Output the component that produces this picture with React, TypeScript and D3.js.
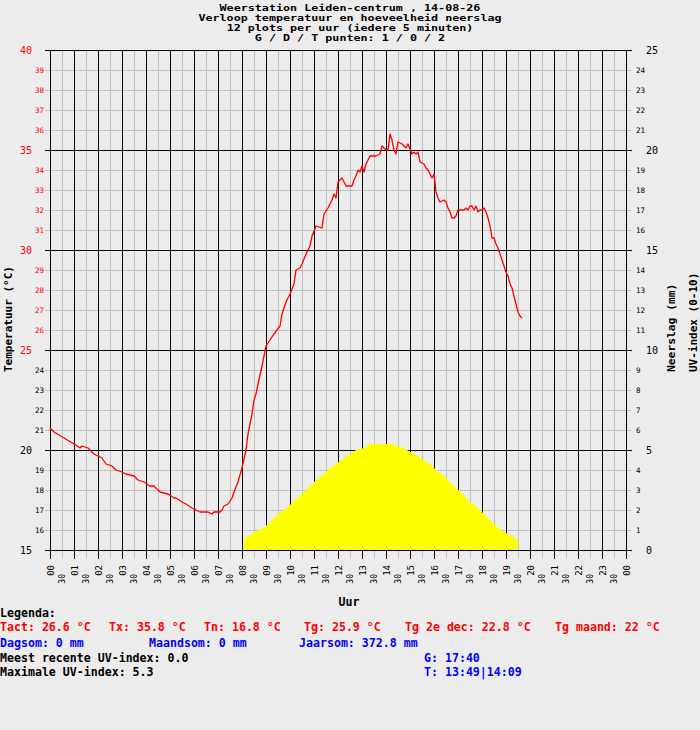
import React from "react";
import * as d3 from "d3";

// ---------- data ----------
const titleLines = [
  "Weerstation Leiden-centrum , 14-08-26",
  "Verloop temperatuur en hoeveelheid neerslag",
  "12 plots per uur (iedere 5 minuten)",
  "G / D / T punten: 1 / 0 / 2",
];

// minutes since midnight
const tempTimes = [
  0, 10, 35, 60, 75, 80, 95, 100, 110, 130, 140, 155, 165, 180, 190, 210, 220, 235, 250, 260,
  275, 295, 310, 315, 330, 340, 355, 365, 375, 395, 405, 410, 425, 430, 435, 445, 455, 460, 470, 480,
  490, 495, 505, 510, 515, 520, 530, 535, 540, 550, 560, 575, 580, 590, 600, 610, 615, 625, 630, 640,
  650, 655, 665, 680, 685, 695, 705, 710, 715, 720, 730, 740, 755, 760, 765, 770, 775, 780, 785, 790,
  800, 815, 825, 830, 840, 845, 850, 855, 860, 865, 870, 880, 890, 895, 905, 910, 915, 920, 925, 935,
  940, 945, 950, 955, 960, 965, 970, 975, 985, 990, 995, 1000, 1005, 1010, 1015, 1020, 1025, 1035, 1040, 1045,
  1050, 1055, 1060, 1065, 1070, 1075, 1080, 1085, 1090, 1095, 1100, 1105, 1110, 1115, 1120, 1125, 1130, 1135, 1140, 1145,
  1150, 1155, 1160, 1165, 1170, 1175, 1180,
];
const tempValues = [
  21.1, 20.9, 20.6, 20.3, 20.1, 20.2, 20.1, 20.0, 19.8, 19.6, 19.3, 19.2, 19.0, 18.9, 18.8, 18.7, 18.5, 18.4, 18.2, 18.2,
  17.9, 17.8, 17.6, 17.6, 17.4, 17.3, 17.1, 17.0, 16.9, 16.9, 16.8, 16.9, 16.9, 17.0, 17.2, 17.3, 17.6, 17.9, 18.4, 19.1,
  20.0, 20.8, 21.8, 22.5, 22.8, 23.3, 24.2, 24.7, 25.2, 25.5, 25.8, 26.2, 26.8, 27.4, 27.8, 28.3, 29.0, 29.1, 29.3, 29.8,
  30.2, 30.7, 31.2, 31.1, 31.8, 32.1, 32.5, 32.8, 32.6, 33.4, 33.6, 33.2, 33.2, 33.5, 33.7, 34.0, 33.9, 34.2, 33.9, 34.3,
  34.7, 34.7, 34.8, 35.2, 35.0, 35.0, 35.8, 35.5, 35.0, 34.8, 35.4, 35.3, 35.1, 35.3, 34.8, 34.9, 34.8, 34.9, 34.4, 34.3,
  34.1, 34.0, 33.8, 33.6, 33.8, 32.9, 32.6, 32.4, 32.5, 32.4, 32.1, 31.9, 31.6, 31.6, 31.7, 32.0, 32.0, 32.0, 32.1, 32.0,
  32.2, 32.2, 32.0, 32.2, 31.9, 32.0, 32.0, 32.1, 31.9, 31.6, 31.2, 30.6, 30.6, 30.3, 30.1, 29.8, 29.5, 29.2, 28.9, 28.7,
  28.3, 28.1, 27.7, 27.3, 26.9, 26.7, 26.6,
];

const uvTimes = [
  485, 495, 510, 535, 550, 565, 585, 600, 615, 635, 650, 665, 685, 700, 715, 735, 750, 765, 785, 800,
  855, 865, 885, 900, 915, 935, 950, 965, 985, 1000, 1015, 1035, 1050, 1065, 1085, 1100, 1115, 1135, 1150, 1165, 1170,
];
const uvValues = [
  0.5, 0.7, 0.9, 1.1, 1.4, 1.7, 2.0, 2.25, 2.55, 2.9, 3.2, 3.5, 3.8, 4.1, 4.3, 4.6, 4.8, 5.0, 5.1, 5.3,
  5.3, 5.2, 5.1, 4.9, 4.75, 4.5, 4.3, 4.0, 3.7, 3.4, 3.1, 2.75, 2.4, 2.2, 1.8, 1.5, 1.2, 0.9, 0.75, 0.55, 0.55,
];

const hourLabels = [
  "00", "01", "02", "03", "04", "05", "06", "07", "08", "09", "10", "11",
  "12", "13", "14", "15", "16", "17", "18", "19", "20", "21", "22", "23", "00",
];
const halfHourLabel = "30";

const tempMin = 15;
const tempMax = 40;
const rainMax = 25;

const legendTitle = "Legenda:";
const legendRed = ["Tact: 26.6 °C", "Tx: 35.8 °C", "Tn: 16.8 °C", "Tg: 25.9 °C", "Tg 2e dec: 22.8 °C", "Tg maand: 22 °C"];
const legendBlue = ["Dagsom: 0 mm", "Maandsom: 0 mm", "Jaarsom: 372.8 mm"];
const uvRecent = "Meest recente UV-index: 0.0";
const uvMax = "Maximale UV-index: 5.3";
const gTime = "G: 17:40";
const tTime = "T: 13:49|14:09";

// ---------- layout ----------
const W = 700;
const H = 730;
const L = 50;
const R = 626;
const T = 50;
const B = 550;
const BG = "#ececec";
const GRID = "#c0c0c0";
const MONO = "'DejaVu Sans Mono', 'Liberation Mono', monospace";
const redX = [0, 109, 204, 304, 405, 555];
const blueX = [0, 149, 299];
const CHAR_W = 7.05;

export default function App() {
  const x = d3.scaleLinear().domain([0, 1440]).range([L, R]);
  const y = d3.scaleLinear().domain([tempMin, tempMax]).range([B, T]);
  const yR = d3.scaleLinear().domain([0, rainMax]).range([B, T]);

  const tempData = tempTimes.map((t, i) => [t, tempValues[i]] as [number, number]);
  const uvData = uvTimes.map((t, i) => [t, uvValues[i]] as [number, number]);

  const line = d3
    .line<[number, number]>()
    .x((d) => x(d[0]))
    .y((d) => y(d[1]));
  const area = d3
    .area<[number, number]>()
    .x((d) => x(d[0]))
    .y0(yR(0))
    .y1((d) => yR(d[1]));

  const tempTicks = d3.range(tempMin, tempMax + 1);
  const rainTicks = d3.range(0, rainMax + 1);
  const halfHours = d3.range(0, 24).map((h) => h * 60 + 30);
  const hours = d3.range(0, 25).map((h) => h * 60);

  return (
    <div style={{ position: "absolute", left: 0, top: 0 }}>
      <svg width={W} height={H} style={{ display: "block" }} fontFamily={MONO}>
        <rect x={0} y={0} width={W} height={H} fill={BG} />

        {/* title */}
        {titleLines.map((s, i) => (
          <text
            key={i}
            x={350}
            y={10.5 + i * 10}
            textAnchor="middle"
            fontSize={9.2}
            fontWeight="bold"
            fill="#000"
            textLength={s.length * CHAR_W}
            lengthAdjust="spacingAndGlyphs"
          >
            {s}
          </text>
        ))}

        {/* minor horizontal grid */}
        {tempTicks
          .filter((t) => t % 5 !== 0)
          .map((t) => (
            <line key={"hg" + t} x1={L - 5} x2={R + 5} y1={y(t) + 0.5} y2={y(t) + 0.5} stroke={GRID} strokeWidth={1} shapeRendering="crispEdges" />
          ))}
        {/* half-hour verticals */}
        {halfHours.map((m) => (
          <line key={"vh" + m} x1={x(m) + 0.5} x2={x(m) + 0.5} y1={T} y2={B + 9} stroke={GRID} strokeWidth={1} shapeRendering="crispEdges" />
        ))}
        {/* hour verticals */}
        {hours.map((m) => (
          <line key={"vv" + m} x1={x(m) + 0.5} x2={x(m) + 0.5} y1={T} y2={B + 9} stroke="#000" strokeWidth={1} shapeRendering="crispEdges" />
        ))}
        {/* major horizontal */}
        {tempTicks
          .filter((t) => t % 5 === 0)
          .map((t) => (
            <line key={"hm" + t} x1={L - 5} x2={R + 6} y1={y(t) + 0.5} y2={y(t) + 0.5} stroke="#000" strokeWidth={1} shapeRendering="crispEdges" />
          ))}

        {/* UV area */}
        <path d={area(uvData) || ""} fill="#ffff00" stroke="none" />

        {/* temperature line */}
        <path d={line(tempData) || ""} fill="none" stroke="#ff0000" strokeWidth={1.3} strokeLinejoin="round" />

        {/* left axis labels */}
        {tempTicks.map((t) =>
          t % 5 === 0 ? (
            <text key={"lt" + t} x={32} y={y(t) + 4} textAnchor="end" fontSize={10} fill={t >= 25 ? "#ff0000" : "#000"}>
              {t}
            </text>
          ) : (
            <text key={"lt" + t} x={44} y={y(t) + 3} textAnchor="end" fontSize={7.5} fill={t >= 25 ? "#ff0000" : "#000"}>
              {t}
            </text>
          )
        )}

        {/* right axis labels */}
        {rainTicks.map((t) =>
          t % 5 === 0 ? (
            <text key={"rt" + t} x={646} y={yR(t) + 4} textAnchor="start" fontSize={10} fill="#000">
              {t}
            </text>
          ) : (
            <text key={"rt" + t} x={636} y={yR(t) + 3} textAnchor="start" fontSize={7.5} fill="#000">
              {t}
            </text>
          )
        )}

        {/* x labels */}
        {hours.map((m, i) => (
          <text
            key={"xh" + m}
            transform={`translate(${x(m) + 3.5},565) rotate(-90)`}
            textAnchor="end"
            fontSize={9}
            fill="#000"
          >
            {hourLabels[i]}
          </text>
        ))}
        {halfHours.map((m) => (
          <text
            key={"xs" + m}
            transform={`translate(${x(m) + 3},574) rotate(-90)`}
            textAnchor="end"
            fontSize={8}
            fill="#000"
          >
            {halfHourLabel}
          </text>
        ))}

        {/* axis titles */}
        <text x={349} y={606} textAnchor="middle" fontSize={11.6} fontWeight="bold" fill="#000">
          Uur
        </text>
        <text transform="translate(12,372) rotate(-90)" textAnchor="start" fontSize={11} fontWeight="bold" fill="#000">
          Temperatuur (°C)
        </text>
        <text transform="translate(675,372) rotate(-90)" textAnchor="start" fontSize={11.3} fontWeight="bold" fill="#000">
          Neerslag (mm)
        </text>
        <text transform="translate(697,372) rotate(-90)" textAnchor="start" fontSize={11} fontWeight="bold" fill="#000">
          UV-index (0-10)
        </text>

        {/* legend */}
        <text x={0} y={617} fontSize={11.6} fontWeight="bold" fill="#000">
          {legendTitle}
        </text>
        {legendRed.map((s, i) => (
          <text key={"lr" + i} x={redX[i]} y={631} fontSize={11.6} fontWeight="bold" fill="#ff0000">
            {s}
          </text>
        ))}
        {legendBlue.map((s, i) => (
          <text key={"lb" + i} x={blueX[i]} y={646.5} fontSize={11.6} fontWeight="bold" fill="#0000ff">
            {s}
          </text>
        ))}
        <text x={0} y={661.5} fontSize={11.6} fontWeight="bold" fill="#000">
          {uvRecent}
        </text>
        <text x={424} y={661.5} fontSize={11.6} fontWeight="bold" fill="#0000ff">
          {gTime}
        </text>
        <text x={0} y={676} fontSize={11.6} fontWeight="bold" fill="#000">
          {uvMax}
        </text>
        <text x={424} y={676} fontSize={11.6} fontWeight="bold" fill="#0000ff">
          {tTime}
        </text>
      </svg>
    </div>
  );
}
